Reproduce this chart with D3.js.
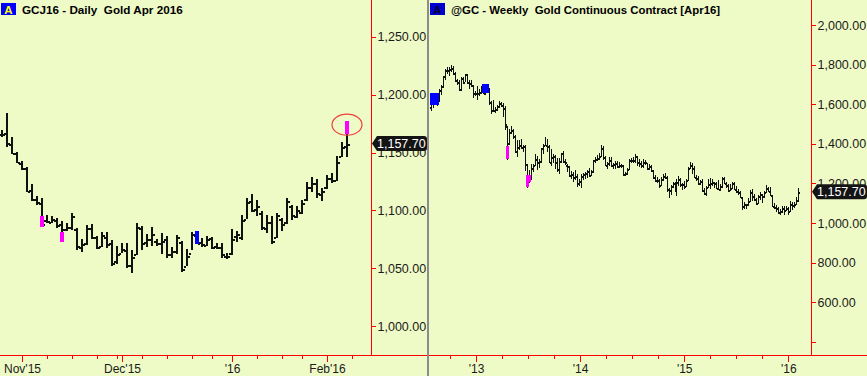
<!DOCTYPE html>
<html><head><meta charset="utf-8">
<script src="https://cdn.jsdelivr.net/npm/d3@7"></script>
<style>
html,body{margin:0;padding:0;background:#effbc7;}
svg{display:block;}
text{font-family:Arial,"Liberation Sans",Helvetica,sans-serif;}
</style></head><body>
<svg id="chart" width="867" height="376"></svg>
<script>
// ---------------- DAILY (left panel) ----------------
const dailyTitle = "GCJ16 - Daily  Gold Apr 2016";
const dailyDates = [
 "2015-10-27","2015-10-28","2015-10-29","2015-10-30",
 "2015-11-02","2015-11-03","2015-11-04","2015-11-05","2015-11-06",
 "2015-11-09","2015-11-10","2015-11-11","2015-11-12","2015-11-13",
 "2015-11-16","2015-11-17","2015-11-18","2015-11-19","2015-11-20",
 "2015-11-23","2015-11-24","2015-11-25","2015-11-27","2015-11-30",
 "2015-12-01","2015-12-02","2015-12-03","2015-12-04",
 "2015-12-07","2015-12-08","2015-12-09","2015-12-10","2015-12-11",
 "2015-12-14","2015-12-15","2015-12-16","2015-12-17","2015-12-18",
 "2015-12-21","2015-12-22","2015-12-23","2015-12-24",
 "2015-12-28","2015-12-29","2015-12-30","2015-12-31",
 "2016-01-04","2016-01-05","2016-01-06","2016-01-07","2016-01-08",
 "2016-01-11","2016-01-12","2016-01-13","2016-01-14","2016-01-15",
 "2016-01-19","2016-01-20","2016-01-21","2016-01-22",
 "2016-01-25","2016-01-26","2016-01-27","2016-01-28","2016-01-29",
 "2016-02-01","2016-02-02","2016-02-03","2016-02-04","2016-02-05"];
const dailyFutureDates = ["2016-02-08","2016-02-09","2016-02-10","2016-02-11","2016-02-12"];
const dailyOpen = [1166,1167,1157,1150,1141,1137,1118,1110,1106,1092,
 1090,1092,1088,1084,1086,1084,1068,1072,1085,1077,
 1069,1077,1072,1056,1063,1066,1053,1062,1085,1073,
 1075,1074,1072,1075,1062,1065,1073,1052,1063,1079,
 1073,1070,1076,1069,1068,1061,1063,1078,1077,1093,
 1108,1101,1098,1085,1090,1077,1093,1090,1104,1095,
 1099,1110,1120,1124,1114,1120,1128,1126,1147,1156];
const dailyHigh = [1169.0,1184.4,1163.5,1150.8,1143.0,1137.2,1122.7,1112.1,1110.3,1095.8,
 1095.2,1093.8,1090.9,1088.9,1097.6,1085.2,1075.0,1087.2,1088.0,1077.9,
 1081.3,1081.3,1074.4,1069.2,1071.5,1071.5,1065.7,1088.9,1086.6,1079.3,
 1086.0,1075.0,1080.2,1077.9,1068.7,1078.5,1073.5,1066.3,1081.3,1081.9,
 1076.5,1077.9,1077.3,1072.1,1072.1,1062.8,1083.7,1082.2,1095.8,1110.3,
 1114.1,1109.1,1099.6,1095.8,1095.2,1097.6,1093.8,1110.3,1104.5,1103.4,
 1109.1,1124.2,1128.6,1127.1,1119.0,1130.6,1132.3,1147.3,1158.9,1176.8];
const dailyLow = [1163.3,1154.9,1148.8,1141.0,1135.2,1115.5,1108.2,1104.5,1085.7,1089.5,
 1088.9,1085.2,1072.7,1082.2,1083.1,1065.7,1064.0,1069.8,1075.0,1066.9,
 1068.7,1067.9,1051.8,1053.3,1062.8,1050.4,1046.1,1061.9,1065.7,1068.7,
 1069.2,1069.2,1062.0,1059.1,1059.1,1062.0,1046.6,1051.8,1065.7,1070.6,
 1068.7,1069.2,1066.9,1066.3,1059.1,1058.2,1061.9,1072.7,1074.4,1092.4,
 1098.7,1095.2,1083.1,1080.2,1070.7,1076.5,1082.2,1088.0,1091.8,1093.8,
 1096.7,1108.2,1115.5,1110.3,1108.2,1118.4,1123.6,1125.6,1145.9,1145.9];
const dailyClose = [1166,1158,1150,1142,1137,1117,1110,1107,1088,1091,
 1093,1087,1084,1086,1095,1069,1071,1085,1077,1068,
 1079,1071,1055,1062,1067,1053,1060,1086,1072,1075,
 1080,1072,1074,1062,1065,1077,1049,1061,1080,1072,
 1071,1075,1068,1068,1062,1061,1075,1080,1092,1107,
 1100,1104,1086,1090,1074,1096,1088,1108,1096,1100,
 1106,1120,1124,1115,1117,1128,1126,1142,1155,1157.7];
const dailyPaintDates = ["2015-11-06","2015-11-12","2015-12-22","2016-02-05"];
const dailyPaintTop = [1095.2,1081.3,1081.9,1176.8];
const dailyPaintBottom = [1085.7,1072.7,1070.6,1166.1];
const dailyPaintColor = ["#ff00ff","#ff00ff","#0000ff","#ff00ff"];
const dailyCircleDate = "2016-02-05", dailyCirclePrice = 1174;
const dailyYTicks = [1000,1050,1100,1150,1200,1250];
const dailyMajorTicks = ["2015-11-02","2015-12-01","2016-01-04","2016-02-01"];
const dailyMajorLabels = ["Nov'15","Dec'15","'16","Feb'16"];
const dailyMinorTicks = ["2015-11-09","2015-11-16","2015-11-23","2015-11-30","2015-12-07","2015-12-14",
 "2015-12-21","2015-12-28","2016-01-11","2016-01-19","2016-01-25","2016-02-08"];
const lastPrice = 1157.70;

// ---------------- WEEKLY (right panel) ----------------
const weeklyTitle = "@GC - Weekly  Gold Continuous Contract [Apr16]";
const weeklyFirstFriday = "2012-07-27", weeklyLastFriday = "2016-02-05";
const weeklyOpen = [
 1585,1619,1605,1620,1617,1673,1692,1741,1772,1773,1776,1781,1759,1724,1712,1676,1731,1714,1751,1712,1705,1696,1657,
 1656,1656,1662,1687,1657,1667,1667,1609,1572,1572,1577,1592,1608,1596,1581,1488,1405,1462,1470,1437,
 1366,1386,1393,1383,1387,1297,1234,1223,1277,1295,1322,1309,1314,1377,1396,1396,1387,1308,1333,1338,
 1310,1272,1315,1352,1315,1292,1288,1244,1250,1231,1235,1204,
 1214,1238,1247,1254,1264,1240,1262,1318,1323,1326,1339,1379,1334,1294,1303,1318,1293,1300,1302,1287,
 1293,1292,1245,1252,1275,1316,1320,1320,1337,1310,1303,1294,1309,1306,1280,1287,1266,1231,1216,1218,
 1192,1222,1238,1231,1171,1169,1185,1201,1175,1205,1222,1195,
 1195,1186,1217,1277,1293,1278,1234,1227,1204,1212,1167,1152,1183,1199,1201,1207,1203,1178,1174,1188,
 1225,1204,1190,1168,1179,1201,1173,1163,1159,1132,1085,1095,1094,1113,1159,1134,1121,1103,1137,1146,
 1137,1156,1177,1163,1142,1088,1081,1076,1056,1062,1076,1065,
 1076,1060,1097,1090,1097,1116];
const weeklyHigh = [
 1625,1627,1626,1626,1677,1695,1742,1778,1790,1788,1798,1793,1765,1728,1722,1736,1737,1754,1755,1724,1723,1699,1667,
 1693,1679,1694,1697,1681,1684,1681,1617,1620,1588,1598,1616,1612,1605,1592,1490,1476,1488,1474,1446,
 1418,1419,1424,1396,1394,1297,1268,1298,1299,1348,1336,1322,1380,1400,1434,1423,1393,1375,1347,1345,
 1327,1327,1356,1362,1323,1296,1290,1261,1256,1267,1247,1220,
 1248,1251,1256,1270,1276,1269,1320,1332,1345,1355,1392,1390,1336,1306,1332,1331,1304,1315,1315,1306,
 1298,1295,1258,1278,1325,1327,1332,1346,1340,1322,1314,1324,1320,1304,1298,1291,1270,1240,1230,1222,
 1230,1250,1255,1235,1175,1191,1206,1205,1222,1239,1225,1200,
 1213,1224,1282,1307,1303,1290,1244,1235,1219,1220,1176,1187,1220,1225,1223,1209,1205,1215,1196,1232,
 1230,1206,1196,1195,1205,1205,1189,1173,1162,1133,1104,1098,1126,1168,1170,1147,1126,1141,1157,1148,
 1160,1192,1180,1180,1143,1099,1090,1080,1069,1088,1085,1088,
 1080,1113,1105,1107,1130,1177];
const weeklyLow = [
 1573,1584,1600,1598,1615,1650,1688,1726,1757,1749,1770,1753,1718,1700,1672,1674,1705,1718,1705,1683,1690,1636,1645,
 1626,1644,1656,1655,1651,1662,1600,1555,1565,1563,1573,1587,1589,1540,1476,1321,1400,1454,1428,1359,
 1338,1376,1380,1364,1268,1180,1207,1222,1262,1293,1271,1281,1310,1355,1393,1364,1306,1292,1309,1277,
 1261,1251,1310,1307,1297,1262,1237,1225,1211,1220,1186,1193,
 1182,1221,1226,1233,1238,1240,1259,1307,1320,1325,1337,1322,1291,1277,1291,1289,1277,1277,1284,1284,
 1284,1240,1240,1245,1271,1308,1310,1309,1292,1288,1281,1283,1300,1272,1275,1262,1228,1212,1207,1183,
 1190,1217,1229,1161,1131,1147,1180,1164,1142,1192,1188,1172,
 1178,1185,1215,1276,1251,1232,1215,1195,1196,1164,1147,1142,1183,1178,1191,1183,1175,1170,1168,1182,
 1202,1182,1162,1166,1175,1170,1159,1148,1130,1072,1077,1077,1092,1112,1118,1118,1097,1102,1122,1107,
 1130,1155,1160,1140,1085,1077,1062,1052,1046,1058,1046,1065,
 1047,1061,1073,1083,1096,1111];
const weeklyClose = [
 1619,1605,1620,1617,1673,1692,1741,1772,1773,1776,1781,1759,1724,1712,1676,1731,1714,1751,1712,1705,1696,1657,1656,
 1656,1662,1687,1657,1667,1667,1609,1572,1572,1577,1592,1608,1596,1581,1501,1405,1462,1470,1437,1366,
 1386,1393,1383,1387,1297,1234,1223,1277,1295,1322,1309,1314,1377,1396,1396,1387,1308,1333,1338,1310,
 1272,1315,1352,1315,1308,1288,1244,1250,1231,1235,1204,1214,
 1238,1247,1254,1264,1240,1262,1318,1323,1326,1339,1379,1334,1294,1303,1318,1293,1300,1302,1287,1293,
 1292,1245,1252,1275,1316,1320,1320,1337,1310,1303,1294,1309,1306,1280,1287,1266,1231,1216,1218,1192,
 1222,1238,1231,1171,1169,1185,1201,1175,1205,1222,1195,1195,
 1186,1217,1277,1293,1278,1234,1227,1204,1212,1167,1152,1183,1199,1201,1207,1203,1178,1174,1188,1225,
 1204,1190,1168,1179,1201,1173,1163,1159,1132,1085,1095,1094,1113,1159,1134,1121,1103,1137,1146,1137,
 1156,1177,1163,1142,1088,1081,1076,1056,1062,1076,1065,1076,
 1060,1097,1090,1097,1116,1157.7];
const weeklyPaintStart = ["2012-07-27","2013-01-25","2013-04-19","2013-06-28","2013-07-05"];
const weeklyPaintEnd   = ["2012-08-17","2013-02-08","2013-04-19","2013-06-28","2013-07-05"];
const weeklyPaintTop = [1655,1700,1389,1242,1242];
const weeklyPaintBottom = [1596,1658,1322,1183,1209];
const weeklyPaintColor = ["#0000ff","#0000ff","#ff00ff","#ff00ff","#ff00ff"];
const weeklyYTicks = [600,800,1000,1200,1400,1600,1800,2000];
const weeklyYMinorTicks = [400];
const weeklyMajorTicks = ["2013-01-01","2014-01-01","2015-01-01","2016-01-01"];
const weeklyMajorLabels = ["'13","'14","'15","'16"];
const weeklyMinorTicks = ["2012-10-01","2013-04-01","2013-07-01","2013-10-01","2014-04-01","2014-07-01",
 "2014-10-01","2015-04-01","2015-07-01","2015-10-01"];

// ---------------- DRAWING ----------------
const W = 867, H = 376, BG = "#effbc7", RED = "#ff0000", INK = "#111";
const parse = d3.timeParse("%Y-%m-%d");
const fmt = d3.format(",.2f");
const svg = d3.select("#chart");
svg.append("rect").attr("width", W).attr("height", H).attr("fill", BG);

const LP = {x0:0, x1:427, ax:371, ay:355};
const RP = {x0:429, x1:867, ax:811, ay:355};

const dailyAll = dailyDates.concat(dailyFutureDates);
const di = d => dailyAll.indexOf(d);
const xD = d3.scaleLinear().domain([0, 74]).range([2, 372]);
const yD = d3.scaleLinear().domain([1000, 1250]).range([326.2, 36.7]);
const xW = d3.scaleTime().domain([parse("2013-01-01"), parse("2016-01-01")]).range([476, 788.3]);
const yW = d3.scaleLinear().domain([400, 2000]).range([341.8, 25]);
const weeklyDates = d3.timeFriday.range(parse(weeklyFirstFriday), d3.timeDay.offset(parse(weeklyLastFriday), 1));

const defs = svg.append("defs");
defs.append("clipPath").attr("id","clipL").append("rect").attr("x",0).attr("y",0).attr("width",LP.ax).attr("height",LP.ay);
defs.append("clipPath").attr("id","clipR").append("rect").attr("x",RP.x0).attr("y",0).attr("width",RP.ax-RP.x0).attr("height",RP.ay);

svg.append("rect").attr("x",427).attr("y",0).attr("width",2).attr("height",H).attr("fill","#8c8c8c");

// ---- daily bars
const gD = svg.append("g").attr("clip-path","url(#clipL)").attr("shape-rendering","crispEdges");
const dailyData = dailyDates.map((d,i)=>({i, o:dailyOpen[i], h:dailyHigh[i], l:dailyLow[i], c:dailyClose[i]}));
const dBar = gD.selectAll("g.bar").data(dailyData).join("g").attr("class","bar");
dBar.append("rect").attr("x",d=>Math.round(xD(d.i))-1).attr("width",2)
  .attr("y",d=>Math.round(yD(d.h))).attr("height",d=>Math.max(1,Math.round(yD(d.l))-Math.round(yD(d.h)))).attr("fill",INK);
dBar.append("rect").attr("x",d=>Math.round(xD(d.i))-3).attr("width",2)
  .attr("y",d=>Math.round(yD(d.o))).attr("height",1.5).attr("fill",INK);
dBar.append("rect").attr("x",d=>Math.round(xD(d.i))+1).attr("width",2)
  .attr("y",d=>Math.round(yD(d.c))).attr("height",1.5).attr("fill",INK);
gD.selectAll("rect.paint").data(dailyPaintDates).join("rect").attr("class","paint")
  .attr("x",d=>Math.round(xD(di(d)))-2).attr("width",4)
  .attr("y",(d,k)=>yD(dailyPaintTop[k])).attr("height",(d,k)=>yD(dailyPaintBottom[k])-yD(dailyPaintTop[k]))
  .attr("fill",(d,k)=>dailyPaintColor[k]);
svg.append("ellipse").attr("cx",xD(di(dailyCircleDate))).attr("cy",yD(dailyCirclePrice))
  .attr("rx",15).attr("ry",10.5).attr("fill","none").attr("stroke","#f03c3c").attr("stroke-width",1.2);

// ---- weekly bars
const gW = svg.append("g").attr("clip-path","url(#clipR)").attr("shape-rendering","crispEdges");
const weeklyData = weeklyDates.map((d,i)=>({d, o:weeklyOpen[i], h:weeklyHigh[i], l:weeklyLow[i], c:weeklyClose[i]}));
const wBar = gW.selectAll("g.bar").data(weeklyData).join("g").attr("class","bar");
wBar.append("rect").attr("x",d=>Math.round(xW(d.d))).attr("width",1.4)
  .attr("y",d=>Math.round(yW(d.h))).attr("height",d=>Math.max(1,Math.round(yW(d.l))-Math.round(yW(d.h)))+1).attr("fill",INK);
wBar.append("rect").attr("x",d=>Math.round(xW(d.d))-1).attr("width",1)
  .attr("y",d=>Math.round(yW(d.o))).attr("height",1.5).attr("fill",INK);
wBar.append("rect").attr("x",d=>Math.round(xW(d.d))+1).attr("width",1)
  .attr("y",d=>Math.round(yW(d.c))).attr("height",1.5).attr("fill",INK);
gW.selectAll("rect.paint").data(weeklyPaintStart).join("rect").attr("class","paint")
  .attr("x",d=>Math.round(xW(parse(d)))-1)
  .attr("width",(d,k)=>Math.round(xW(parse(weeklyPaintEnd[k])))-Math.round(xW(parse(d)))+3)
  .attr("y",(d,k)=>yW(weeklyPaintTop[k])).attr("height",(d,k)=>yW(weeklyPaintBottom[k])-yW(weeklyPaintTop[k]))
  .attr("fill",(d,k)=>weeklyPaintColor[k]);

// ---- axes
function styleAxis(g){
  g.select(".domain").remove();
  g.selectAll(".tick line").attr("stroke",RED).attr("shape-rendering","crispEdges");
  g.selectAll(".tick text").attr("fill","#1a1a1a").attr("font-family","Arial,'Liberation Sans',sans-serif");
}
svg.append("g").attr("transform",`translate(${LP.ax+0.5},0)`)
  .call(d3.axisRight(yD).tickValues(dailyYTicks).tickSize(4).tickPadding(2).tickFormat(fmt))
  .call(styleAxis).selectAll("text").attr("font-size","12.5px");
svg.append("g").attr("transform",`translate(0,${LP.ay+0.5})`)
  .call(d3.axisBottom(xD).tickValues(dailyMajorTicks.map(di)).tickSize(6).tickPadding(3)
    .tickFormat((v,k)=>dailyMajorLabels[k]))
  .call(styleAxis).selectAll("text").attr("font-size","12px");
svg.append("g").attr("transform",`translate(0,${LP.ay+0.5})`)
  .call(d3.axisBottom(xD).tickValues(dailyMinorTicks.map(di)).tickSize(3).tickFormat(""))
  .call(styleAxis);
svg.append("g").attr("transform",`translate(${RP.ax+0.5},0)`)
  .call(d3.axisRight(yW).tickValues(weeklyYTicks).tickSize(4).tickPadding(2).tickFormat(fmt))
  .call(styleAxis).selectAll("text").attr("font-size","12.5px");
svg.append("g").attr("transform",`translate(${RP.ax+0.5},0)`)
  .call(d3.axisRight(yW).tickValues(weeklyYMinorTicks).tickSize(4).tickFormat(""))
  .call(styleAxis);
svg.append("g").attr("transform",`translate(0,${RP.ay+0.5})`)
  .call(d3.axisBottom(xW).tickValues(weeklyMajorTicks.map(parse)).tickSize(6).tickPadding(3)
    .tickFormat((v,k)=>weeklyMajorLabels[k]))
  .call(styleAxis).selectAll("text").attr("font-size","12px");
svg.append("g").attr("transform",`translate(0,${RP.ay+0.5})`)
  .call(d3.axisBottom(xW).tickValues(weeklyMinorTicks.map(parse)).tickSize(3).tickFormat(""))
  .call(styleAxis);

const lines = svg.append("g").attr("stroke",RED).attr("stroke-width",1).attr("shape-rendering","crispEdges");
lines.append("line").attr("x1",LP.ax+0.5).attr("x2",LP.ax+0.5).attr("y1",0).attr("y2",LP.ay+0.5);
lines.append("line").attr("x1",0).attr("x2",LP.x1).attr("y1",LP.ay+0.5).attr("y2",LP.ay+0.5);
lines.append("line").attr("x1",RP.ax+0.5).attr("x2",RP.ax+0.5).attr("y1",0).attr("y2",RP.ay+0.5);
lines.append("line").attr("x1",RP.x0).attr("x2",RP.x1).attr("y1",RP.ay+0.5).attr("y2",RP.ay+0.5);

function priceTag(ax, x1, y){
  const g = svg.append("g");
  const h = 15, t = ax+1, b = ax+6;
  g.append("path").attr("fill","#141414")
    .attr("d",`M${t},${y} L${b},${y-h/2} H${x1-3} Q${x1},${y-h/2} ${x1},${y-h/2+3} V${y+h/2-3} Q${x1},${y+h/2} ${x1-3},${y+h/2} H${b} Z`);
  g.append("text").attr("x",ax+6).attr("y",y).attr("dy","0.36em").attr("fill","#fff")
    .attr("font-size","12.5px").text(fmt(lastPrice));
}
priceTag(LP.ax, 427, yD(lastPrice));
priceTag(RP.ax, 867, yW(lastPrice));

function title(x, boxFill, letterFill, txt, size){
  svg.append("rect").attr("x",x).attr("y",3).attr("width",15).attr("height",12).attr("fill",boxFill);
  svg.append("text").attr("x",x+7.5).attr("y",13.5).attr("text-anchor","middle").attr("font-size","11.5px")
    .attr("font-weight","bold").attr("fill",letterFill).text("A");
  svg.append("text").attr("x",x+21).attr("y",13.5).attr("font-size",size).attr("font-weight","bold")
    .attr("fill","#000").style("white-space","pre").text(txt);
}
title(1, "#0000ff", "#ffff00", dailyTitle, "11.7px");
title(430, "#0000d0", "#000033", weeklyTitle, "11.4px");
</script></body></html>
